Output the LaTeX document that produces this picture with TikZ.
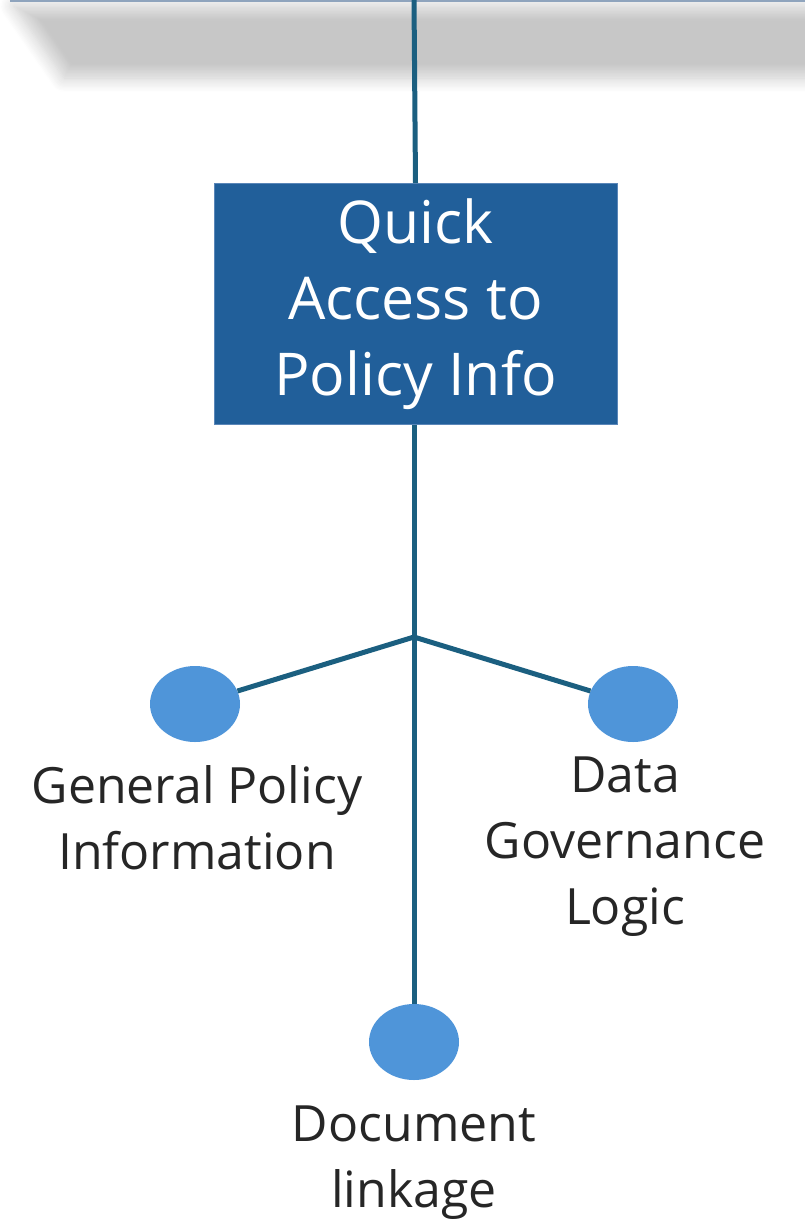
\documentclass[tikz,border=0pt]{standalone}
\usepackage{fontspec}
\setmainfont{Open Sans}
\usetikzlibrary{shapes.geometric,shadows.blur}
\definecolor{linec}{HTML}{1B5F80}
\definecolor{boxc}{HTML}{215F9A}
\definecolor{boxedge}{HTML}{5A86B8}
\definecolor{dotc}{HTML}{4F95D9}
\definecolor{txtc}{HTML}{262626}
\definecolor{topc}{HTML}{8FA4BD}
\begin{document}
\begin{tikzpicture}[x=1pt,y=-1pt,
  conn/.style={draw=linec,line width=5pt},
  boxnode/.style={rectangle,fill=boxc,draw=boxedge,line width=0.8pt,minimum width=403pt,minimum height=241pt,inner sep=0pt,text=white,align=center,font=\fontsize{59}{76}\selectfont},
  dot/.style={ellipse,fill=dotc,minimum width=90pt,minimum height=76pt,inner sep=0pt},
  lbl/.style={text=txtc,align=center,inner sep=0pt,font=\fontsize{50}{66}\selectfont}]
\useasboundingbox (0,0) rectangle (805,1224);
\clip (0,0) rectangle (805,1224);
\path[blur shadow={shadow xshift=0pt,shadow yshift=0pt,shadow blur radius=14pt,shadow opacity=22,shadow blur steps=12}]
  (14,6) -- (840,6) -- (840,78) -- (64,78) -- cycle;
\draw[topc,line width=2.5pt] (10,0.5) -- (805,0.5);
\coordinate (top) at (414,0);
\coordinate (br) at (414,637);
\node[boxnode] (q) at (415.5,304) {Quick\\Access to\\Policy Info};
\node[dot] (l) at (195,704) {};
\node[dot] (r) at (633,704) {};
\node[dot] (b) at (414,1042) {};
\draw[conn] (top) -- (q.north);
\draw[conn] (q.south -| br) -- (br) -- (b);
\draw[conn] (br) -- (l);
\draw[conn] (br) -- (r);
\node[lbl] (lt) at (197,818) {General Policy\\Information};
\node[lbl] (rt) at (625,847) {Data\\Governance\\Logic};
\node[lbl] (bt) at (414,1163) {Document\\linkage};
\end{tikzpicture}
\end{document}
